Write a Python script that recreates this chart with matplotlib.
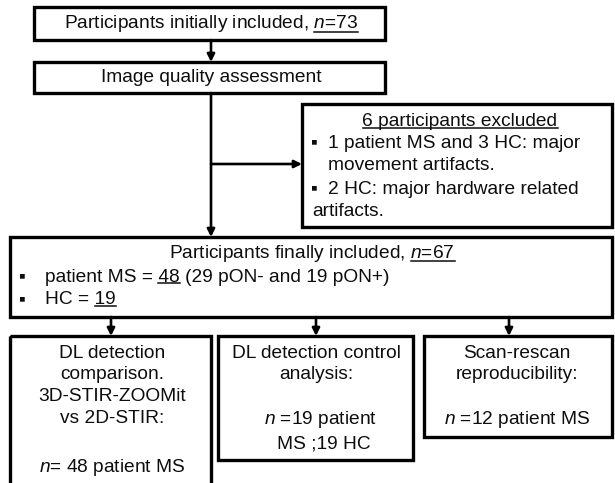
import matplotlib.pyplot as plt
from matplotlib.patches import Rectangle

# counts shown in the flow chart
n_initial = 73
n_excluded = 6
n_final = 67
n_ms = 48
n_pon = [29, 19]          # pON-, pON+
n_hc = 19
excluded_reasons = ["1 patient MS and 3 HC: major", "2 HC: major hardware related"]
study_titles = [
    ["DL detection", "comparison.", "3D-STIR-ZOOMit", "vs 2D-STIR:"],
    ["DL detection control", "analysis:"],
    ["Scan-rescan", "reproducibility:"],
]
study_counts = [48, 19, 12]

plt.rcParams['font.family'] = ['Liberation Sans', 'DejaVu Sans']
plt.rcParams['mathtext.fontset'] = 'custom'
plt.rcParams['mathtext.rm'] = 'Liberation Sans'
plt.rcParams['mathtext.it'] = 'Liberation Sans:italic'

FS = 13.8
LW = 2.4
INK = '#0d0d0d'

fig = plt.figure(figsize=(6.15, 4.83), dpi=100)
ax = fig.add_axes([0, 0, 1, 1])
ax.set_xlim(0, 615)
ax.set_ylim(483, 0)
ax.axis('off')
renderer = fig.canvas.get_renderer()


def box(x0, y0, x1, y1):
    ax.add_patch(Rectangle((x0, y0), x1 - x0, y1 - y0, fill=False,
                           edgecolor='black', linewidth=LW))


def arrow(x0, y0, x1, y1):
    ax.annotate('', xy=(x1, y1), xytext=(x0, y0),
                arrowprops=dict(arrowstyle='-|>', color='black', lw=1.9,
                                mutation_scale=11, shrinkA=0, shrinkB=0))


def txt(x, y, s, ha='center', size=FS):
    return ax.text(x, y, s, ha=ha, va='center', fontsize=size, color=INK)


def extent(t):
    return t.get_window_extent(renderer).transformed(ax.transData.inverted())


def width(s):
    t = txt(0, 0, s, ha='left')
    bb = extent(t)
    t.remove()
    return bb.x1 - bb.x0


def underline_tail(t, tail, upto=None):
    # underline the part "tail" that ends the string (or ends at the prefix "upto")
    bb = extent(t)
    end = bb.x1 if upto is None else bb.x0 + width(upto)
    start = end - width(tail)
    ybase = max(bb.y0, bb.y1) - 2.2
    ax.plot([start, end], [ybase, ybase], color=INK, lw=1.1)


# top boxes
box(34, 7, 385, 40)
t = txt(211, 24, r'Participants initially included, $n$=%d' % n_initial)
underline_tail(t, r'$n$=%d' % n_initial)
arrow(211, 40, 211, 62)
box(34, 62, 385, 93)
txt(211, 78, 'Image quality assessment')

# main line down + exclusion branch
arrow(211, 93, 211, 237)
arrow(211, 164, 302, 164)

box(302, 104, 612, 227)
s = '%d participants excluded' % n_excluded
t = txt(460, 122, s)
underline_tail(t, s)
txt(314, 143, '▪')
txt(328, 143, excluded_reasons[0], ha='left')
txt(328, 166, 'movement artifacts.', ha='left')
txt(314, 189, '▪')
txt(328, 189, excluded_reasons[1], ha='left')
txt(312, 212, 'artifacts.', ha='left')

# finally included
box(10, 237, 612, 317)
t = txt(312, 253, r'Participants finally included, $n$=%d' % n_final)
underline_tail(t, r'$n$=%d' % n_final)
txt(22, 277, '▪')
t = txt(45, 277, 'patient MS = %d (%d pON- and %d pON+)'
        % (n_ms, n_pon[0], n_pon[1]), ha='left')
underline_tail(t, '%d' % n_ms, upto='patient MS = %d' % n_ms)
txt(22, 300, '▪')
t = txt(45, 300, 'HC = %d' % n_hc, ha='left')
underline_tail(t, '%d' % n_hc)

# three study boxes
arrow(111, 317, 111, 336)
arrow(316, 317, 316, 336)
arrow(509, 317, 509, 336)

box(10, 336, 211, 500)
for i, line in enumerate(study_titles[0]):
    txt(112, 353 + i * 21.7, line)
txt(112, 467, r'$n$= %d patient MS' % study_counts[0])

box(218, 336, 413, 460)
for i, line in enumerate(study_titles[1]):
    txt(316, 353 + i * 21.7, line)
txt(320, 420, r'$n$ =%d patient' % study_counts[1])
txt(324, 444, 'MS ;%d HC' % n_hc)

box(424, 336, 612, 437)
for i, line in enumerate(study_titles[2]):
    txt(517, 353 + i * 21.7, line)
txt(517, 420, r'$n$ =%d patient MS' % study_counts[2])

fig.savefig('out.png', dpi=100)
